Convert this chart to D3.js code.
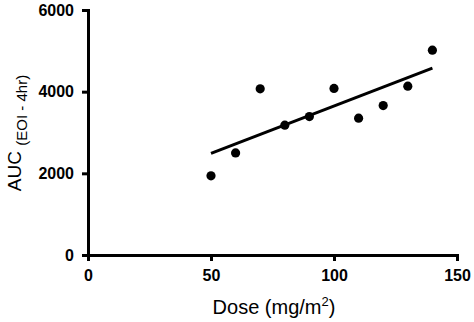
<!DOCTYPE html>
<html>
<head>
<meta charset="utf-8">
<script src="https://cdn.jsdelivr.net/npm/d3@7"></script>
<style>
html,body{margin:0;padding:0;background:#fff;}
svg{display:block;font-family:"Liberation Sans",Arial,sans-serif;}
</style>
</head>
<body>
<svg id="chart" width="474" height="322"></svg>
<script>
const doses = [50, 60, 70, 80, 90, 100, 110, 120, 130, 140];
const auc = [1940, 2500, 4070, 3180, 3390, 4080, 3350, 3660, 4135, 5015];
const xTicks = [0, 50, 100, 150];
const yTicks = [0, 2000, 4000, 6000];

(function () {
const svg = d3.select("#chart");
const mLeft = 88, mRight = 457, mTop = 10, mBottom = 255;
const x = d3.scaleLinear().domain([0, 150]).range([mLeft, mRight]);
const y = d3.scaleLinear().domain([0, 6000]).range([mBottom, mTop]);

const xAxis = svg.append("g").attr("transform", `translate(0,${mBottom})`)
  .call(d3.axisBottom(x).tickValues(xTicks).tickFormat(d3.format("d")).tickSize(6).tickSizeOuter(0).tickPadding(9));
const yAxis = svg.append("g").attr("transform", `translate(${mLeft},0)`)
  .call(d3.axisLeft(y).tickValues(yTicks).tickFormat(d3.format("d")).tickSize(6).tickSizeOuter(0).tickPadding(8));

[xAxis, yAxis].forEach(g => {
  g.selectAll("path.domain").attr("stroke", "#000").attr("stroke-width", 3).attr("stroke-linecap", "square");
  g.selectAll(".tick line").attr("stroke", "#000").attr("stroke-width", 3);
  g.selectAll(".tick text").attr("fill", "#000").attr("font-size", 16).attr("font-weight", "bold")
    .attr("font-family", "Liberation Sans, Arial, sans-serif");
});

// linear regression from data
const mx = d3.mean(doses), my = d3.mean(auc);
let sxy = 0, sxx = 0;
doses.forEach((d, i) => { sxy += (d - mx) * (auc[i] - my); sxx += (d - mx) * (d - mx); });
const slope = sxy / sxx, icpt = my - slope * mx;
const xr = d3.extent(doses);
svg.append("line")
  .attr("x1", x(xr[0])).attr("y1", y(icpt + slope * xr[0]))
  .attr("x2", x(xr[1])).attr("y2", y(icpt + slope * xr[1]))
  .attr("stroke", "#000").attr("stroke-width", 3);

svg.append("g").selectAll("circle").data(doses).join("circle")
  .attr("cx", d => x(d)).attr("cy", (d, i) => y(auc[i])).attr("r", 4.6).attr("fill", "#000");

// x label
const xl = svg.append("text").attr("x", 274).attr("y", 314).attr("text-anchor", "middle")
  .attr("font-size", 20).attr("fill", "#000");
xl.append("tspan").text("Dose (mg/m");
xl.append("tspan").attr("font-size", 13).attr("dy", -8).text("2");
xl.append("tspan").attr("dy", 8).text(")");

// y label
const yl = svg.append("text").attr("transform", `translate(21,133) rotate(-90)`).attr("text-anchor", "middle")
  .attr("fill", "#000").attr("font-size", 19);
yl.append("tspan").text("AUC ");
yl.append("tspan").attr("font-size", 15).attr("dy", 6).text("(EOI - 4hr)");
})();
</script>
</body>
</html>
